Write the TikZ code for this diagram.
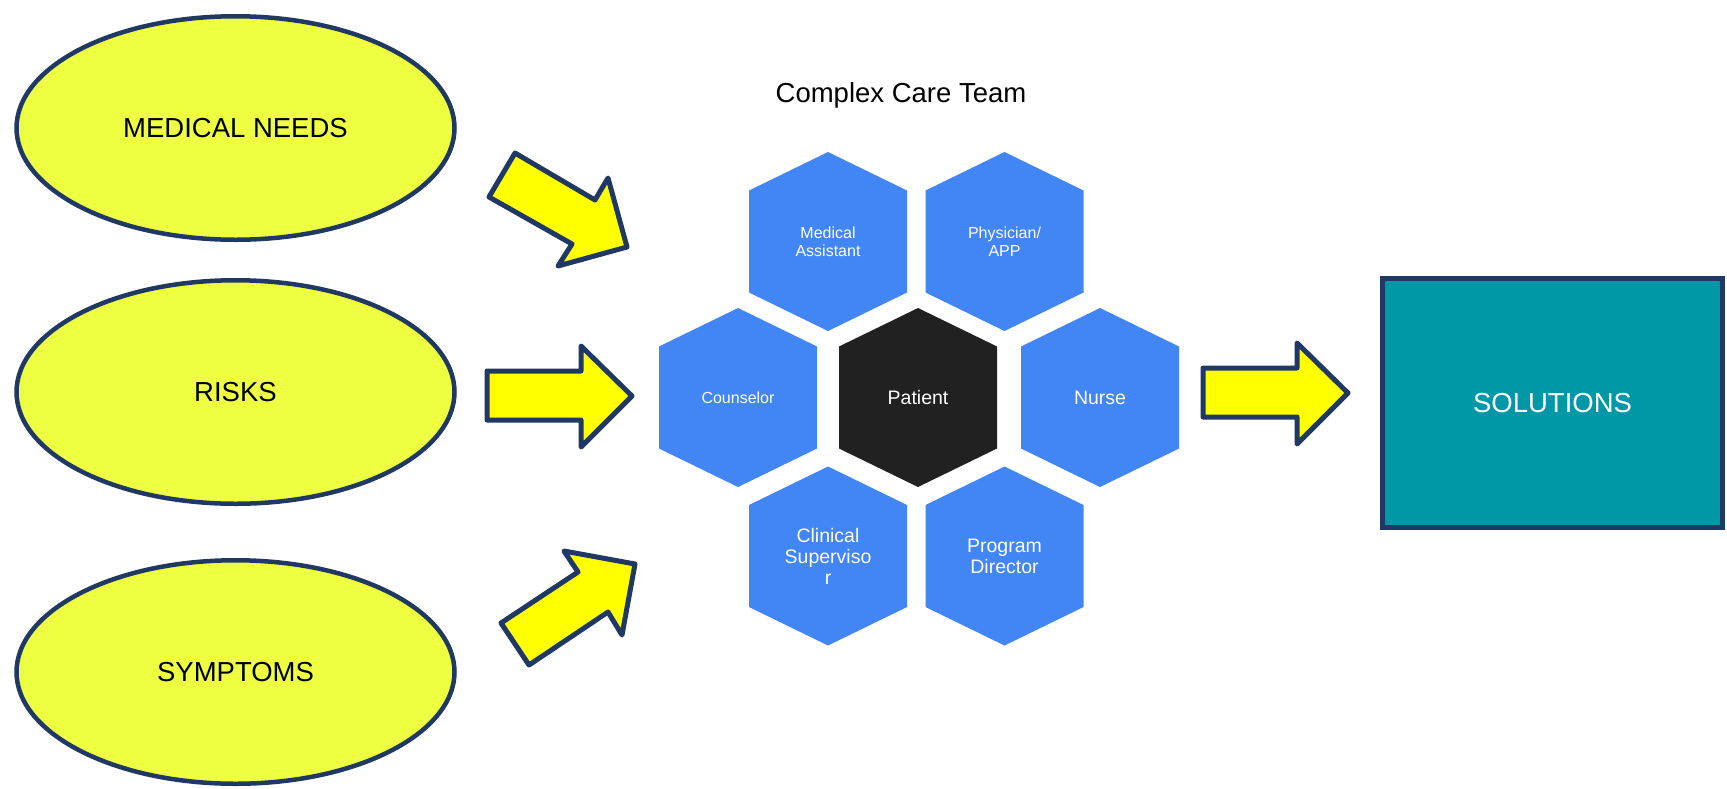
\documentclass[tikz,border=0pt]{standalone}
\usepackage{fontspec}
\setmainfont{Liberation Sans}
\usetikzlibrary{shapes.geometric}
\definecolor{navy}{RGB}{31,56,100}
\definecolor{limefill}{RGB}{238,255,65}
\definecolor{arrowyellow}{RGB}{255,255,0}
\definecolor{hexblue}{RGB}{66,133,244}
\definecolor{hexdark}{RGB}{33,33,33}
\definecolor{tealfill}{RGB}{0,151,167}
% #1 name, #2 x, #3 y, #4 fill, #5 font style, #6 text
\newcommand\hexcell[6]{%
  \fill[#4] ({#2-79},{#3-51}) -- (#2,{#3-89.5}) -- ({#2+79},{#3-51})
    -- ({#2+79},{#3+51}) -- (#2,{#3+89.5}) -- ({#2-79},{#3+51}) -- cycle;
  \node[hextext,#5] (#1) at (#2,#3) {#6};
}
\begin{document}
\begin{tikzpicture}[x=0.5pt,y=-0.5pt,
  bigtext/.style={font=\fontsize{13.75pt}{16pt}\selectfont},
  oval/.style={ellipse,draw=navy,line width=2.25pt,fill=limefill,
    minimum width=219pt,minimum height=111.75pt,inner sep=0pt,bigtext},
  blockarrow/.style={draw=navy,line width=2.5pt,fill=arrowyellow,line join=round},
  hextext/.style={text=white,align=center,inner sep=0pt},
  hexsmall/.style={font=\fontsize{8pt}{9pt}\selectfont},
  hexbig/.style={font=\fontsize{9.75pt}{10.5pt}\selectfont},
  solbox/.style={rectangle,draw=navy,line width=2.5pt,fill=tealfill,
    minimum width=170pt,minimum height=124.5pt,text=white,bigtext}
]
\useasboundingbox (0,0) rectangle (1727,788);

% ellipses
\node[oval] (med) at (235.5,128) {MEDICAL NEEDS};
\node[oval] (risk) at (235.5,392) {RISKS};
\node[oval] (symp) at (235.5,672) {SYMPTOMS};

% block arrows
\draw[blockarrow] (515,153) -- (595,200) -- (608,178) -- (627,247)
  -- (558,266) -- (572,244) -- (489,197) -- cycle;
\draw[blockarrow] (487,371) -- (581,371) -- (581,346) -- (632,396)
  -- (581,447) -- (581,420) -- (487,420) -- cycle;
\draw[blockarrow] (529,665) -- (501,623) -- (578,572) -- (564,551)
  -- (635,564) -- (622,635) -- (608,612) -- cycle;
\draw[blockarrow] (1203,368) -- (1297,368) -- (1297,343) -- (1348,393)
  -- (1297,444) -- (1297,417) -- (1203,417) -- cycle;

% title
\node[bigtext] (title) at (901,95) {Complex Care Team};

% hexagons
\hexcell{ma}{828}{241.5}{hexblue}{hexsmall}{Medical\\Assistant}
\hexcell{phys}{1004.5}{241.5}{hexblue}{hexsmall}{Physician/\\APP}
\hexcell{couns}{738}{397.5}{hexblue}{hexsmall}{Counselor}
\hexcell{pat}{918}{397.5}{hexdark}{hexbig}{Patient}
\hexcell{nurse}{1100}{397.5}{hexblue}{hexbig}{Nurse}
\hexcell{clin}{828}{556}{hexblue}{hexbig}{Clinical\\Superviso\\r}
\hexcell{prog}{1004.5}{556}{hexblue}{hexbig}{Program\\Director}

% solutions
\node[solbox] (sol) at (1552.5,403) {SOLUTIONS};
\end{tikzpicture}
\end{document}
